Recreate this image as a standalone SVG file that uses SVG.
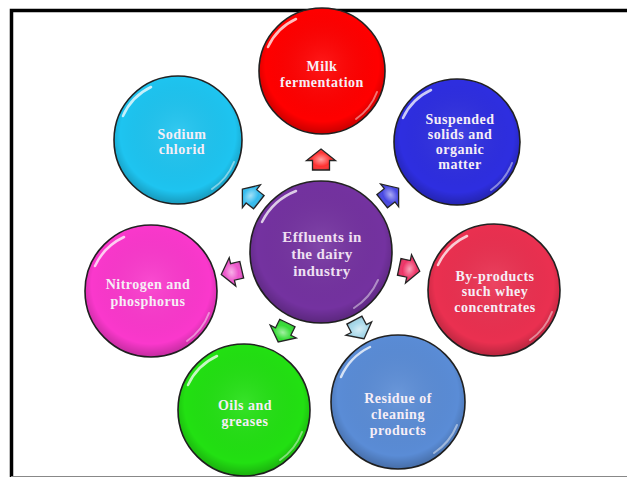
<svg xmlns="http://www.w3.org/2000/svg" width="627" height="478" viewBox="0 0 627 478">
<defs>
<radialGradient id="shade" cx="50%" cy="45%" r="55%">
<stop offset="0" stop-color="#fff" stop-opacity="0.10"/>
<stop offset="0.82" stop-color="#000" stop-opacity="0"/>
<stop offset="1" stop-color="#000" stop-opacity="0.22"/>
</radialGradient>
<radialGradient id="ashade" cx="50%" cy="50%" r="55%">
<stop offset="0" stop-color="#fff" stop-opacity="0.55"/>
<stop offset="0.6" stop-color="#fff" stop-opacity="0"/>
<stop offset="1" stop-color="#000" stop-opacity="0.2"/>
</radialGradient>
<path id="arr" d="M0,-11 L14.5,0.5 L8.5,0.5 L8.5,10 L-8.5,10 L-8.5,0.5 L-14.5,0.5 Z"/>
</defs>
<style>
.c{stroke:#222;stroke-width:1.6}
.o{fill:url(#shade)}
.hl{fill:none;stroke:#fff;stroke-width:2.5;stroke-linecap:round;opacity:0.75}
.hl2{fill:none;stroke:#fff;stroke-width:2;stroke-linecap:round;opacity:0.45}
.t{font-family:"Liberation Serif","Times New Roman",serif;font-weight:bold;font-size:14px;letter-spacing:0.5px;fill:#f6eef6;text-anchor:middle}
.tc{font-size:15px;letter-spacing:0.4px;fill:#efe0f2}
.a{stroke:#222;stroke-width:1.3;stroke-linejoin:miter}
.ao{fill:url(#ashade)}
</style>
<g id="frame">
<path d="M11.5,477 L11.5,10.5 L630,10.5" fill="none" stroke="#000" stroke-width="3.5"/>
<line x1="11" y1="476.5" x2="627" y2="476.5" stroke="#888" stroke-width="1.2"/>
</g>
<g id="connectors">
<g transform="translate(321,160) rotate(0)"><use href="#arr" class="a" fill="#ff3030"/><use href="#arr" class="ao"/></g>
<g transform="translate(390,195) rotate(51.5)"><use href="#arr" class="a" fill="#4646e2"/><use href="#arr" class="ao"/></g>
<g transform="translate(409,269) rotate(102)"><use href="#arr" class="a" fill="#ee3366"/><use href="#arr" class="ao"/></g>
<g transform="translate(359,329) rotate(152.5)"><use href="#arr" class="a" fill="#a6d8ea"/><use href="#arr" class="ao"/></g>
<g transform="translate(283,332) rotate(206)"><use href="#arr" class="a" fill="#33dd33"/><use href="#arr" class="ao"/></g>
<g transform="translate(232,272) rotate(-103)"><use href="#arr" class="a" fill="#ee55cc"/><use href="#arr" class="ao"/></g>
<g transform="translate(251,196) rotate(-51.7)"><use href="#arr" class="a" fill="#33bbee"/><use href="#arr" class="ao"/></g>
</g>
<g id="center">
<circle cx="321" cy="252" r="71" class="c" fill="#7432a0"/>
<circle cx="321" cy="252" r="71" class="o"/>
<path d="M262,222 A64,64 0 0 1 296,191" class="hl"/>
<path d="M378,280 A64,64 0 0 1 354,308" class="hl2"/>
<text class="t tc" x="322" y="242">Effluents in</text>
<text class="t tc" x="322" y="259">the dairy</text>
<text class="t tc" x="322" y="276">industry</text>
</g>
<g id="milk">
<circle cx="322" cy="71" r="63" class="c" fill="#ff0000"/>
<circle cx="322" cy="71" r="63" class="o"/>
<path d="M268,47 A57,57 0 0 1 296,19" class="hl"/>
<path d="M377,92 A57,57 0 0 1 356,119" class="hl2"/>
<text class="t" x="322" y="71">Milk</text>
<text class="t" x="322" y="87">fermentation</text>
</g>
<g id="suspended">
<circle cx="457" cy="142" r="63" class="c" fill="#2e2ee0"/>
<circle cx="457" cy="142" r="63" class="o"/>
<path d="M403,118 A57,57 0 0 1 431,90" class="hl"/>
<path d="M512,163 A57,57 0 0 1 491,190" class="hl2"/>
<text class="t" x="460" y="124">Suspended</text>
<text class="t" x="460" y="139">solids and</text>
<text class="t" x="460" y="154">organic</text>
<text class="t" x="460" y="169">matter</text>
</g>
<g id="byproducts">
<circle cx="494" cy="290" r="66" class="c" fill="#ea3050"/>
<circle cx="494" cy="290" r="66" class="o"/>
<path d="M438,265 A60,60 0 0 1 467,236" class="hl"/>
<path d="M552,312 A60,60 0 0 1 530,340" class="hl2"/>
<text class="t" x="495" y="281">By-products</text>
<text class="t" x="495" y="296">such whey</text>
<text class="t" x="495" y="312">concentrates</text>
</g>
<g id="residue">
<circle cx="398" cy="402" r="67" class="c" fill="#5a8cd6"/>
<circle cx="398" cy="402" r="67" class="o"/>
<path d="M341,377 A61,61 0 0 1 370,347" class="hl"/>
<path d="M457,425 A61,61 0 0 1 434,453" class="hl2"/>
<text class="t" x="398" y="403">Residue of</text>
<text class="t" x="398" y="419">cleaning</text>
<text class="t" x="398" y="435">products</text>
</g>
<g id="oils">
<circle cx="244" cy="410" r="66" class="c" fill="#22e012"/>
<circle cx="244" cy="410" r="66" class="o"/>
<path d="M188,385 A60,60 0 0 1 217,356" class="hl"/>
<path d="M302,432 A60,60 0 0 1 280,460" class="hl2"/>
<text class="t" x="245" y="410">Oils and</text>
<text class="t" x="245" y="426">greases</text>
</g>
<g id="nitrogen">
<circle cx="151" cy="291" r="66" class="c" fill="#fa38cc"/>
<circle cx="151" cy="291" r="66" class="o"/>
<path d="M95,266 A60,60 0 0 1 124,237" class="hl"/>
<path d="M209,313 A60,60 0 0 1 187,341" class="hl2"/>
<text class="t" x="148" y="289">Nitrogen and</text>
<text class="t" x="148" y="306">phosphorus</text>
</g>
<g id="sodium">
<circle cx="178" cy="140" r="64" class="c" fill="#1ec4f0"/>
<circle cx="178" cy="140" r="64" class="o"/>
<path d="M123,116 A58,58 0 0 1 151,87" class="hl"/>
<path d="M234,162 A58,58 0 0 1 212,189" class="hl2"/>
<text class="t" x="182" y="139">Sodium</text>
<text class="t" x="182" y="154">chlorid</text>
</g>
</svg>
